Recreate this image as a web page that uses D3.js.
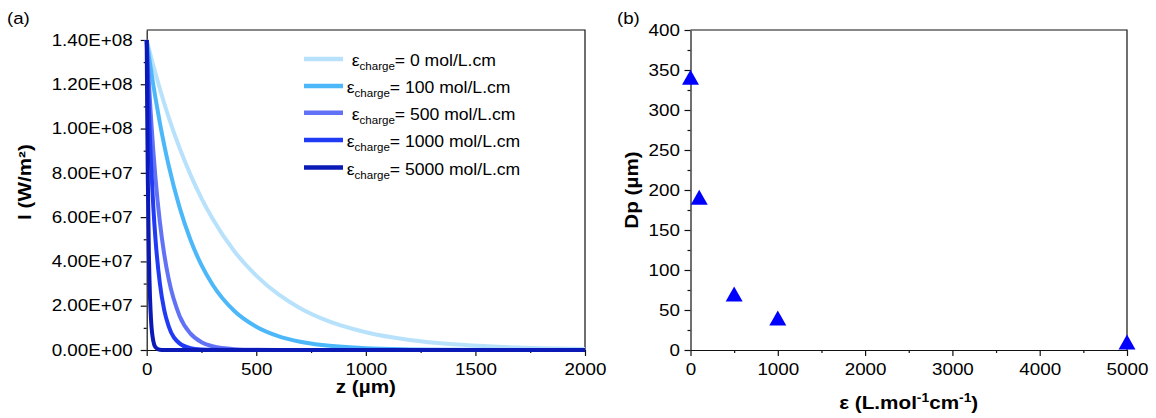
<!DOCTYPE html>
<html><head><meta charset="utf-8">
<script src="https://cdn.jsdelivr.net/npm/d3@7"></script>
<style>
body{margin:0;background:#fff}
text{font-family:"Liberation Sans",Arial,sans-serif;fill:#000}
</style>
</head><body>
<svg id="c" width="1156" height="418"></svg>
<script>
// ---------- DATA ----------
const zGrid = [0,2,5,10,15,20,30,40,60,80,100,150,200,250,300,400,500,600,700,800,1000,1200,1400,1600,1800,2000];
const I_eps0 = [1.40e8,1.392e8,1.380e8,1.361e8,1.341e8,1.322e8,1.285e8,1.249e8,1.180e8,1.114e8,1.052e8,9.12e7,7.91e7,6.85e7,5.94e7,4.46e7,3.36e7,2.52e7,1.89e7,1.42e7,8.04e6,4.54e6,2.56e6,1.45e6,8.2e5,4.6e5];
const I_eps100 = [1.40e8,1.386e8,1.364e8,1.329e8,1.295e8,1.262e8,1.198e8,1.138e8,1.026e8,9.25e7,8.34e7,6.44e7,4.97e7,3.83e7,2.96e7,1.76e7,1.05e7,6.26e6,3.73e6,2.22e6,7.9e5,2.8e5,1.0e5,3.5e4,1.2e4,4.4e3];
const I_eps500 = [1.40e8,1.359e8,1.301e8,1.208e8,1.123e8,1.043e8,9.01e7,7.77e7,5.79e7,4.32e7,3.22e7,1.54e7,7.39e6,3.54e6,1.70e6,3.9e5,9.0e4,2.1e4,4.7e3,1.1e3,0,0,0,0,0,0];
const I_eps1000 = [1.40e8,1.330e8,1.232e8,1.083e8,9.53e7,8.38e7,6.49e7,5.02e7,3.01e7,1.80e7,1.08e7,2.99e6,8.3e5,2.3e5,6.4e4,5e3,0,0,0,0,0,0,0,0,0,0];
const I_eps5000 = [1.40e8,1.106e8,7.77e7,4.32e7,2.40e7,1.33e7,4.11e6,1.27e6,1.2e5,1.1e4,0,0,0,0,0,0,0,0,0,0,0,0,0,0,0,0];
const seriesNames = ["0","100","500","1000","5000"];
const seriesColors = ["#b8e2fb","#4cb8f9","#6272f6","#213bf5","#0b19b6"];

const epsValues = [0,100,500,1000,5000];
const dpValues = [341,191,70,40,10];

const leftXTicks = [0,500,1000,1500,2000];
const leftXTickLabels = ["0","500","1000","1500","2000"];
const leftYTicks = [0,2e7,4e7,6e7,8e7,1e8,1.2e8,1.4e8];
const leftYTickLabels = ["0.00E+00","2.00E+07","4.00E+07","6.00E+07","8.00E+07","1.00E+08","1.20E+08","1.40E+08"];
const rightXTicks = [0,1000,2000,3000,4000,5000];
const rightYTicks = [0,50,100,150,200,250,300,350,400];

// ---------- DRAW ----------
const svg = d3.select("#c");
const SX = 1.14;
const allSeries = [I_eps0,I_eps100,I_eps500,I_eps1000,I_eps5000];

const xL = d3.scaleLinear().domain([0,2000]).range([146.7,585]);
const yL = d3.scaleLinear().domain([0,1.445e8]).range([350,30]);
const xR = d3.scaleLinear().domain([0,5000]).range([690.5,1127]);
const yR = d3.scaleLinear().domain([0,400]).range([350,30]);

function styleAxis(g){
  g.select(".domain").attr("stroke","#111").attr("stroke-width",1.2);
  g.selectAll(".tick line").attr("stroke","#111").attr("stroke-width",1.2);
  g.selectAll(".tick text").attr("font-size",16.5).attr("fill","#000")
    .style("font-family",'"Liberation Sans",Arial,sans-serif')
    .each(function(){
      const t=d3.select(this);
      const x=+t.attr("x")||0;
      t.attr("x",x/SX).attr("transform",`scale(${SX},1)`);
    });
}
function minor(g,axis){
  g.call(axis); g.select(".domain").remove();
  g.selectAll(".tick text").remove();
  g.selectAll(".tick line").attr("stroke","#111").attr("stroke-width",1.2);
}

// frames
function frame(x,y){
  svg.append("path")
    .attr("d",`M${x.range()[0]},${y.range()[1]}H${x.range()[1]}V${y.range()[0]}`)
    .attr("fill","none").attr("stroke","#111").attr("stroke-width",1.2);
}
frame(xL,yL); frame(xR,yR);

// minor ticks
minor(svg.append("g").attr("transform","translate(0,350)"),
  d3.axisBottom(xL).tickValues(d3.range(250,2000,500)).tickSize(3).tickSizeOuter(0));
minor(svg.append("g").attr("transform",`translate(${xL.range()[0]},0)`),
  d3.axisLeft(yL).tickValues(d3.range(1e7,1.45e8,2e7)).tickSize(3).tickSizeOuter(0));
minor(svg.append("g").attr("transform","translate(0,350)"),
  d3.axisBottom(xR).tickValues(d3.range(500,5000,1000)).tickSize(3).tickSizeOuter(0));
minor(svg.append("g").attr("transform",`translate(${xR.range()[0]},0)`),
  d3.axisLeft(yR).tickValues(d3.range(25,400,50)).tickSize(3).tickSizeOuter(0));

// major axes left
svg.append("g").attr("transform","translate(0,350)")
  .call(d3.axisBottom(xL).tickValues(leftXTicks).tickFormat((d,i)=>leftXTickLabels[i]).tickSize(6).tickPadding(7).tickSizeOuter(0))
  .call(styleAxis);
svg.append("g").attr("transform",`translate(${xL.range()[0]},0)`)
  .call(d3.axisLeft(yL).tickValues(leftYTicks).tickFormat((d,i)=>leftYTickLabels[i]).tickSize(6).tickPadding(8).tickSizeOuter(0))
  .call(styleAxis);
// major axes right
svg.append("g").attr("transform","translate(0,350)")
  .call(d3.axisBottom(xR).tickValues(rightXTicks).tickFormat(d3.format("d")).tickSize(6).tickPadding(7).tickSizeOuter(0))
  .call(styleAxis);
svg.append("g").attr("transform",`translate(${xR.range()[0]},0)`)
  .call(d3.axisLeft(yR).tickValues(rightYTicks).tickFormat(d3.format("d")).tickSize(6).tickPadding(4.5).tickSizeOuter(0))
  .call(styleAxis);

// curves
const line = d3.line().x((d,i)=>xL(zGrid[i])).y(d=>yL(d)).curve(d3.curveMonotoneX);
allSeries.forEach((s,k)=>{
  svg.append("path").datum(s).attr("d",line)
    .attr("fill","none").attr("stroke",seriesColors[k]).attr("stroke-width",4)
    .attr("stroke-linejoin","round");
});

// legend
const legY = [59,86,112.7,140,167.5];
const legTextX = [351.7,346.7,351.7,346.7,346.7];
seriesNames.forEach((n,k)=>{
  svg.append("line").attr("x1",304).attr("x2",343).attr("y1",legY[k]).attr("y2",legY[k])
    .attr("stroke",seriesColors[k]).attr("stroke-width",4.5);
  const t = svg.append("text").attr("transform",`translate(${legTextX[k]},${legY[k]+7}) scale(1.1,1)`)
    .attr("font-size",16);
  t.append("tspan").text("ε");
  t.append("tspan").attr("font-size",10.5).attr("dy",4).text("charge");
  t.append("tspan").attr("dy",-4).text(`= ${n} mol/L.cm`);
});

// scatter
svg.append("g").selectAll("path").data(epsValues).join("path")
  .attr("d","M0,-7.5L8.5,7.5L-8.5,7.5Z")
  .attr("transform",(d,i)=>`translate(${xR(d)},${yR(dpValues[i])})`)
  .attr("fill","#0000ff");

// titles
const TS = 1.15;
svg.append("text").attr("transform",`translate(${(xL.range()[0]+xL.range()[1])/2},393) scale(${TS},1)`)
  .attr("text-anchor","middle").attr("font-size",18).attr("font-weight","bold").text("z (µm)");
svg.append("text").attr("transform",`translate(31,182) rotate(-90) scale(${TS},1)`)
  .attr("text-anchor","middle").attr("font-size",18).attr("font-weight","bold").text("I (W/m²)");
svg.append("text").attr("transform",`translate(638,190) rotate(-90) scale(${TS},1)`)
  .attr("text-anchor","middle").attr("font-size",18).attr("font-weight","bold").text("Dp (µm)");
const et = svg.append("text").attr("transform",`translate(${(xR.range()[0]+xR.range()[1])/2},409) scale(${TS},1)`)
  .attr("text-anchor","middle").attr("font-size",18).attr("font-weight","bold");
et.append("tspan").text("ε (L.mol");
et.append("tspan").attr("font-size",12).attr("dy",-7).text("-1");
et.append("tspan").attr("dy",7).text("cm");
et.append("tspan").attr("font-size",12).attr("dy",-7).text("-1");
et.append("tspan").attr("dy",7).text(")");

// panel labels
svg.append("text").attr("transform","translate(7,24) scale(1.1,1)").attr("font-size",17).text("(a)");
svg.append("text").attr("transform","translate(617,24) scale(1.1,1)").attr("font-size",17).text("(b)");
</script>
</body></html>
